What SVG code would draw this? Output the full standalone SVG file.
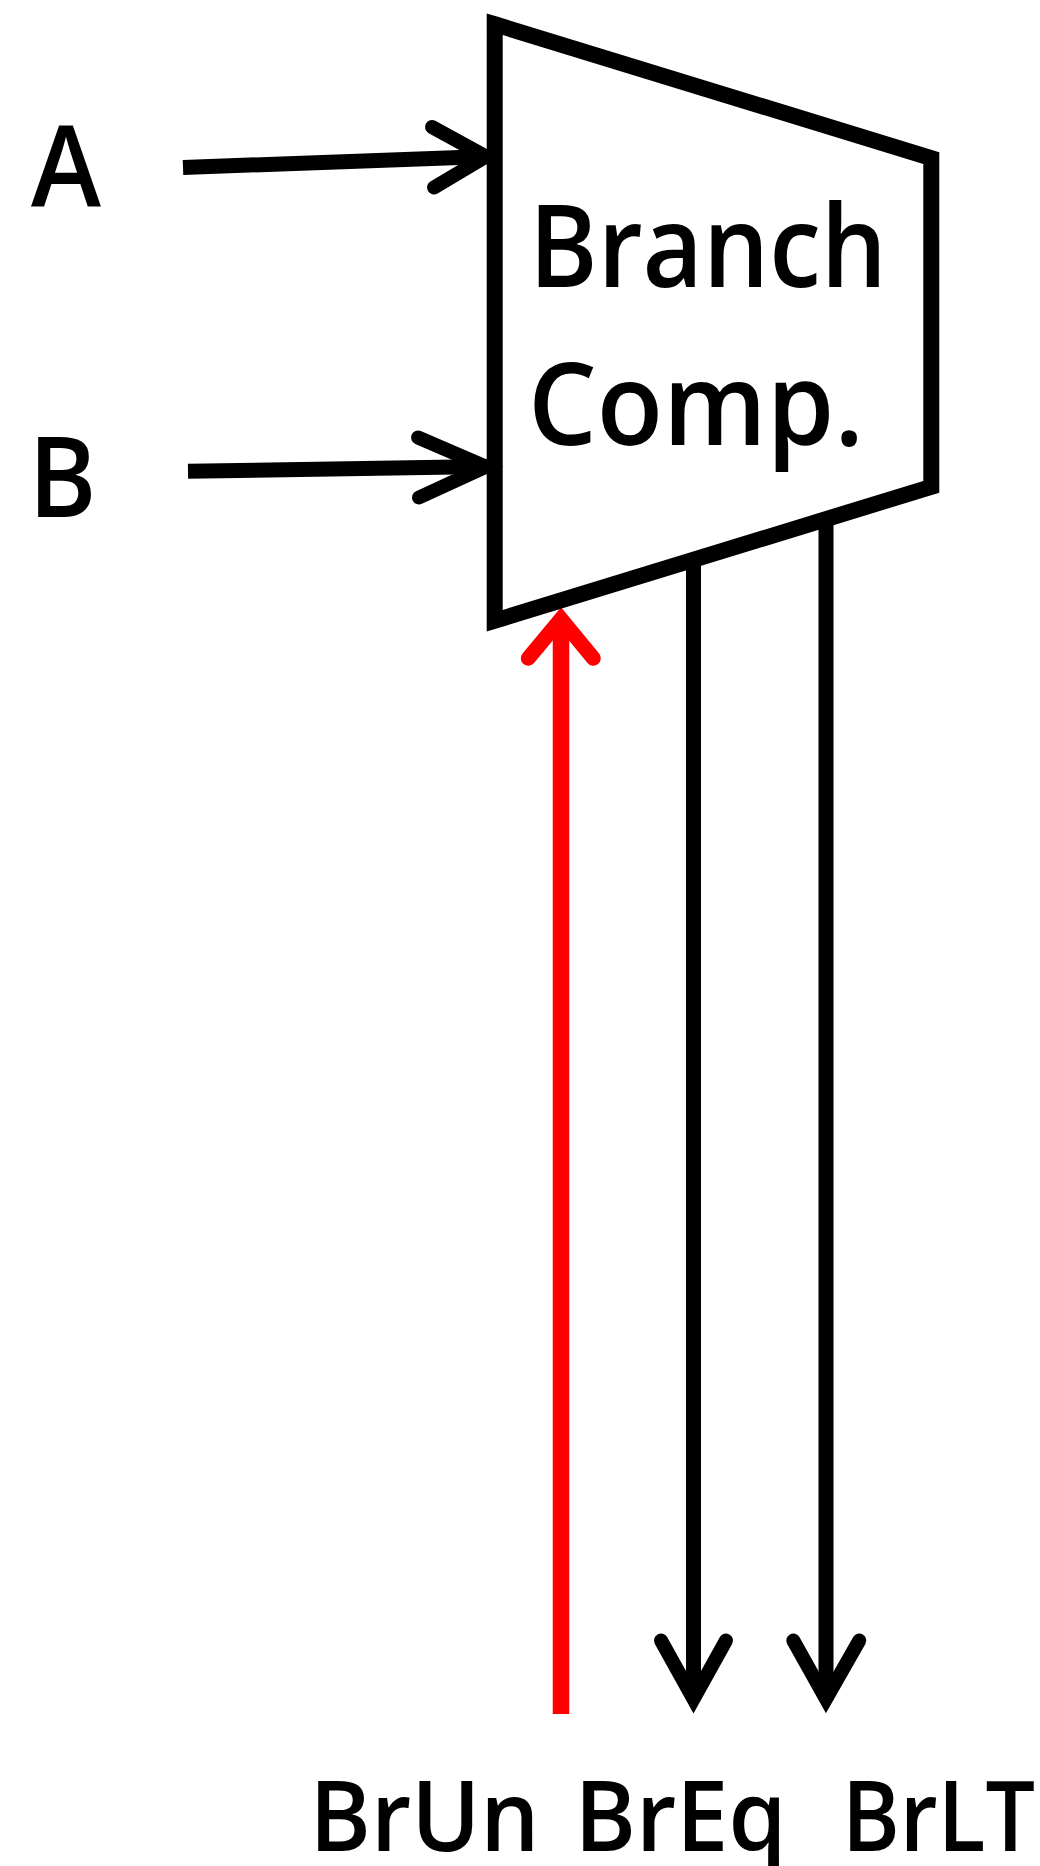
<svg xmlns="http://www.w3.org/2000/svg" width="1040" height="1866" viewBox="0 0 1040 1866">
<style>
.lbl{font-family:"Open Sans","Noto Sans","Liberation Sans",sans-serif;fill:#000;font-weight:600}
.w{fill:none;stroke:#000;stroke-width:15;stroke-linecap:butt}
.head{fill:none;stroke:#000;stroke-width:14;stroke-linecap:round;stroke-linejoin:miter;stroke-miterlimit:10}
.red{stroke:#FF0000}
</style>
<rect width="1040" height="1866" fill="#fff"/>
<g id="connectors">
  <g id="in-A">
    <line class="w" x1="183" y1="167.5" x2="487" y2="156.5"/>
    <polyline class="head" points="432,127 486,156.5 434,187.5"/>
  </g>
  <g id="in-B">
    <line class="w" x1="188" y1="471.3" x2="487" y2="466.5"/>
    <polyline class="head" points="418,437.5 486,466.7 419,497.5"/>
  </g>
  <g id="BrUn-conn">
    <line class="w red" style="stroke-width:16.5" x1="561" y1="620" x2="561" y2="1714"/>
    <polyline class="head red" style="stroke-width:15" points="528.3,658.3 561,619 593.3,658.3"/>
  </g>
  <g id="BrEq-conn">
    <line class="w" x1="693.5" y1="560" x2="693.5" y2="1700"/>
    <polyline class="head" points="661,1640.5 693.5,1699 726,1640.5"/>
  </g>
  <g id="BrLT-conn">
    <line class="w" x1="826" y1="519" x2="826" y2="1700"/>
    <polyline class="head" points="793.3,1640.5 826,1699 859.3,1640.5"/>
  </g>
</g>
<g id="branch-comp">
  <polygon points="494.7,24.2 931.3,158.2 931.3,486.8 494.7,620.8" fill="none" stroke="#000" stroke-width="16" stroke-linejoin="miter" stroke-miterlimit="10"/>
  <text class="lbl" x="529" y="287.3" font-size="115" textLength="358" lengthAdjust="spacingAndGlyphs">Branch</text>
  <text class="lbl" x="528" y="445" font-size="115" textLength="336" lengthAdjust="spacingAndGlyphs">Comp.</text>
</g>
<g id="label-A">
  <text class="lbl" x="31" y="206" font-size="113" textLength="70" lengthAdjust="spacingAndGlyphs">A</text>
</g>
<g id="label-B">
  <text class="lbl" x="28.5" y="516.7" font-size="112" textLength="68" lengthAdjust="spacingAndGlyphs">B</text>
</g>
<g id="label-BrUn">
  <text class="lbl" x="309.5" y="1851" font-size="98" textLength="230" lengthAdjust="spacingAndGlyphs">BrUn</text>
</g>
<g id="label-BrEq">
  <text class="lbl" x="574.5" y="1851" font-size="98" textLength="212" lengthAdjust="spacingAndGlyphs">BrEq</text>
</g>
<g id="label-BrLT">
  <text class="lbl" x="842" y="1851" font-size="98" textLength="193" lengthAdjust="spacingAndGlyphs">BrLT</text>
</g>
</svg>
